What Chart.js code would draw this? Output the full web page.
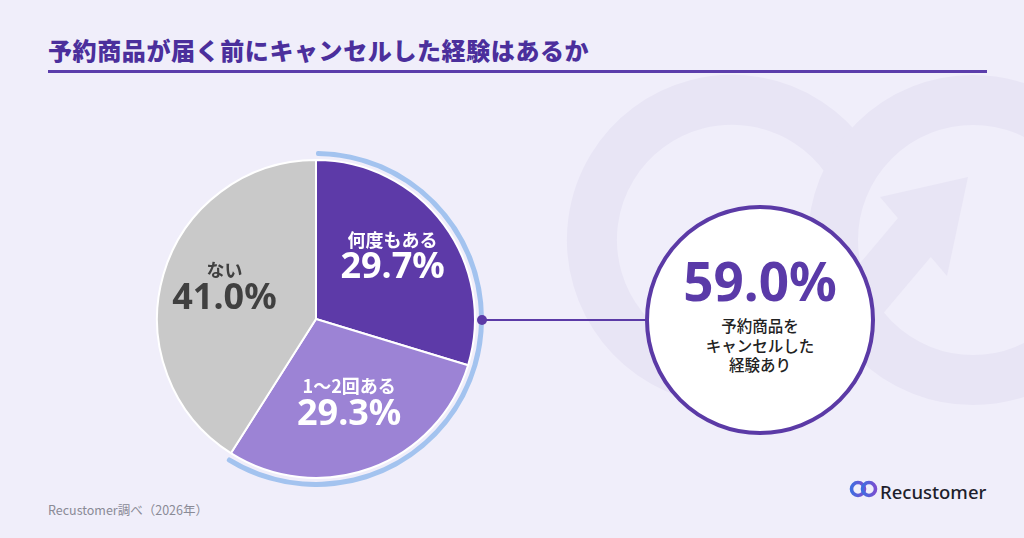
<!DOCTYPE html>
<html>
<head>
<meta charset="utf-8">
<script src="https://cdn.jsdelivr.net/npm/chart.js@4.4.0/dist/chart.umd.min.js"></script>
<style>
  body{margin:0;width:1024px;height:538px;background:#f0eefa;overflow:hidden;position:relative;
    font-family:"Noto Sans CJK JP","Noto Sans",sans-serif;}
  .title{position:absolute;left:48px;top:32px;font-size:24px;font-weight:900;color:#4b2f9c;letter-spacing:0.6px;}
  .rule{position:absolute;left:48px;top:70px;width:939px;height:3px;background:#5b3dab;}
  #wm{position:absolute;left:0;top:0;}
  #pieBox{position:absolute;left:148px;top:151px;width:336px;height:336px;}
  .link{position:absolute;left:482px;top:319px;width:165px;height:2px;background:#5b3aa6;}
  .dot{position:absolute;left:477px;top:315px;width:10px;height:10px;border-radius:50%;background:#5b3aa6;}
  .bubble{position:absolute;left:645px;top:205px;width:222px;height:222px;border:4px solid #5b3aa6;border-radius:50%;
    background:#fff;text-align:center;}
  .big{margin-top:42px;font-size:53px;font-weight:700;color:#5a3aa8;line-height:60px;font-family:"Noto Sans","Noto Sans CJK JP",sans-serif;}
  .sub{margin-top:5px;font-size:15.5px;line-height:19.5px;color:#222;font-weight:500;}
  .note{position:absolute;left:48px;top:500px;font-size:12.5px;color:#8a8a96;}
  .brand{position:absolute;left:880px;top:479px;font-size:18.5px;font-weight:500;color:#1e1e2c;font-family:"Noto Sans",sans-serif;}
  #logo{position:absolute;left:849px;top:478px;}
</style>
</head>
<body>
<svg id="wm" width="1024" height="538">
  <g fill="none" stroke="#e8e5f5" stroke-width="50">
    <path d="M846.7 159.7 A140 140 0 1 0 822 347"/>
    <circle cx="973" cy="240" r="140"/>
    <path d="M822 347 L925 225" stroke-linecap="butt"/>
  </g>
  <polygon points="968,177 880,197 947,276" fill="#e8e5f5"/>
</svg>

<div class="title">予約商品が届く前にキャンセルした経験はあるか</div>
<div class="rule"></div>

<div id="pieBox"><canvas id="pie"></canvas></div>

<div class="link"></div>
<div class="dot"></div>
<div class="bubble">
  <div class="big" id="total"></div>
  <div class="sub">予約商品を<br>キャンセルした<br>経験あり</div>
</div>

<div class="note">Recustomer調べ（2026年）</div>
<svg id="logo" width="30" height="22">
  <defs>
    <linearGradient id="lg" x1="0" y1="0" x2="1" y2="0">
      <stop offset="0" stop-color="#3f6de0"/><stop offset="1" stop-color="#7a4fd0"/>
    </linearGradient>
  </defs>
  <g fill="none" stroke="url(#lg)" stroke-width="3.6">
    <circle cx="9" cy="11" r="6.5"/>
    <circle cx="20" cy="11" r="6.5"/>
  </g>
</svg>
<div class="brand">Recustomer</div>

<script>
const categories = ["何度もある", "1〜2回ある", "ない"];
const values = [29.7, 29.3, 41.0];
const sliceColors = ["#5d3aa8", "#9c83d5", "#c9c9c9"];
const textColors = ["#ffffff", "#ffffff", "#404040"];

const experienced = values[0] + values[1];
document.getElementById("total").textContent = experienced.toFixed(1) + "%";

const sliceLabels = {
  id: "sliceLabels",
  afterDatasetsDraw(chart) {
    const ctx = chart.ctx;
    const meta = chart.getDatasetMeta(2);
    meta.data.forEach((arc, i) => {
      const p = arc.getProps(["x", "y", "startAngle", "endAngle", "outerRadius"], true);
      const mid = (p.startAngle + p.endAngle) / 2;
      const r = p.outerRadius * 0.6;
      const cx = p.x + Math.cos(mid) * r;
      const cy = p.y + Math.sin(mid) * r - 8;
      ctx.save();
      ctx.fillStyle = textColors[i];
      ctx.textAlign = "center";
      ctx.textBaseline = "middle";
      ctx.font = 'bold 18px "Noto Sans CJK JP"';
      ctx.fillText(categories[i], cx, cy - 14);
      ctx.font = 'bold 36px "Noto Sans", "Noto Sans CJK JP"';
      ctx.fillText(values[i].toFixed(1) + "%", cx, cy + 14);
      ctx.restore();
    });
  }
};

new Chart(document.getElementById("pie"), {
  type: "pie",
  data: {
    labels: categories,
    datasets: [
      { // outer highlight ring for the "experienced" share
        data: [experienced, values[2]],
        backgroundColor: ["#a3c3ef", "rgba(0,0,0,0)"],
        borderWidth: 0,
        borderRadius: 2,
        weight: 5
      },
      { // gap ring
        data: [1],
        backgroundColor: ["rgba(0,0,0,0)"],
        borderWidth: 0,
        weight: 4
      },
      {
        data: values,
        backgroundColor: sliceColors,
        borderColor: "#ffffff",
        borderWidth: 2,
        weight: 158
      }
    ]
  },
  options: {
    responsive: true,
    maintainAspectRatio: false,
    animation: false,
    hoverOffset: 0,
    events: [],
    plugins: { legend: { display: false }, tooltip: { enabled: false } }
  },
  plugins: [sliceLabels]
});
</script>
</body>
</html>
